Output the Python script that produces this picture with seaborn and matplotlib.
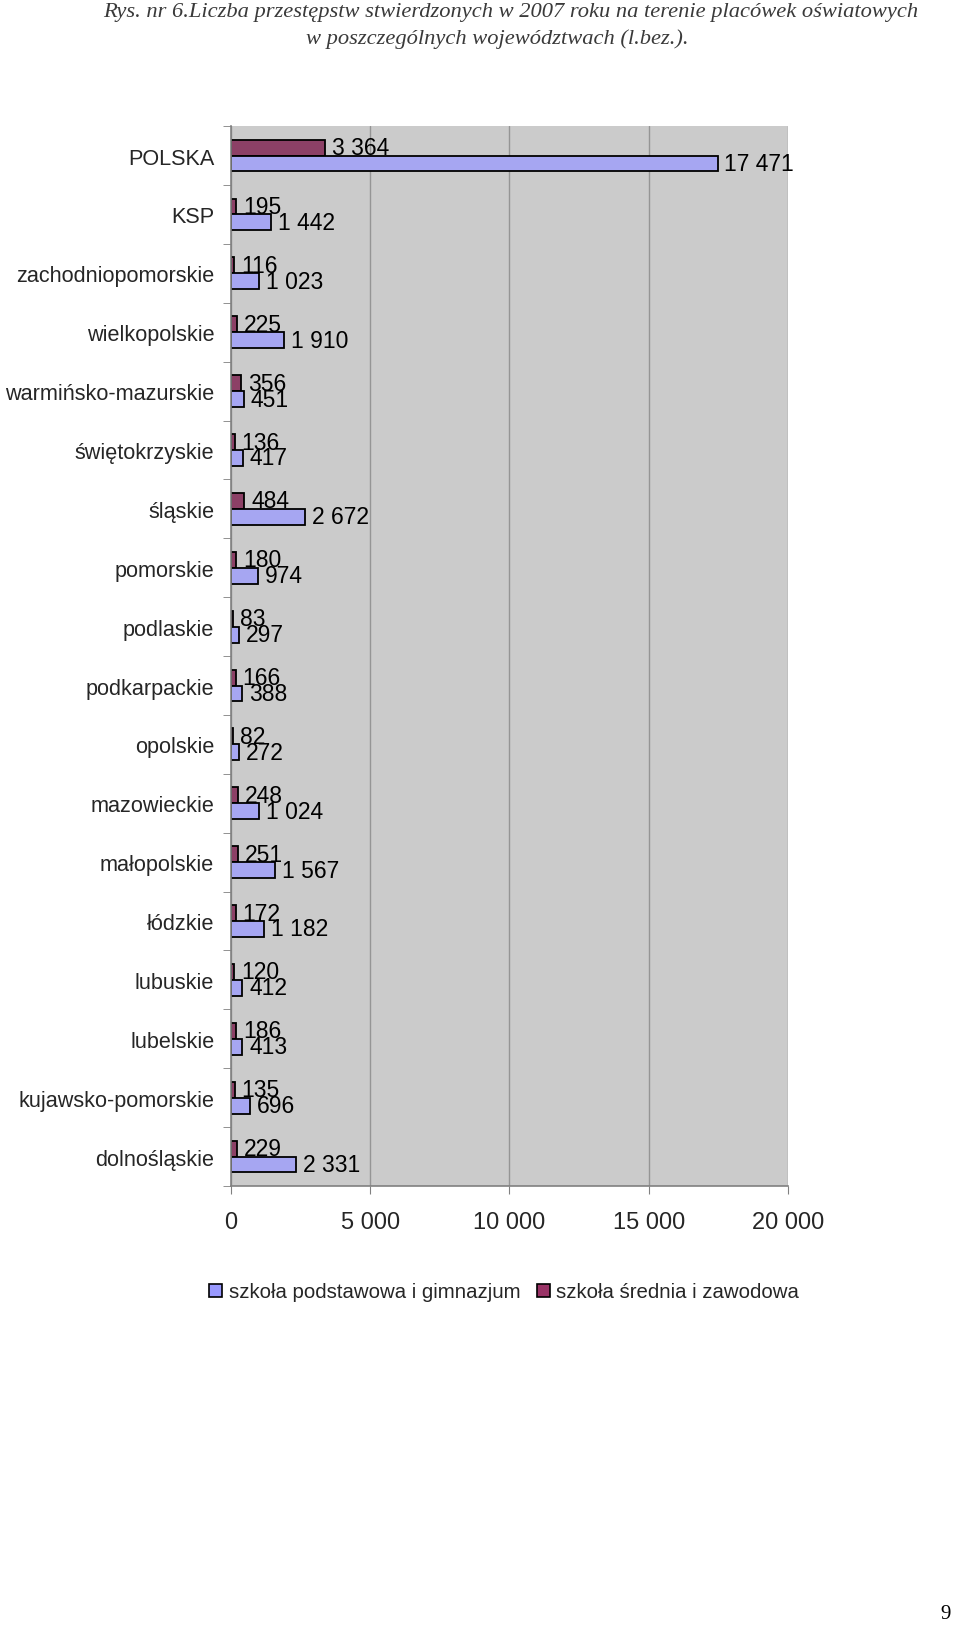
import numpy as np
import pandas as pd
import matplotlib
matplotlib.use("Agg")
import matplotlib.pyplot as plt
from matplotlib.patches import Patch
import seaborn as sns

regions = ["POLSKA", "KSP", "zachodniopomorskie", "wielkopolskie",
           "warmińsko-mazurskie", "świętokrzyskie", "śląskie", "pomorskie",
           "podlaskie", "podkarpackie", "opolskie", "mazowieckie",
           "małopolskie", "łódzkie", "lubuskie", "lubelskie",
           "kujawsko-pomorskie", "dolnośląskie"]
srednia = [3364, 195, 116, 225, 356, 136, 484, 180, 83, 166, 82, 248, 251, 172, 120, 186, 135, 229]
podstawowa = [17471, 1442, 1023, 1910, 451, 417, 2672, 974, 297, 388, 272, 1024, 1567, 1182, 412, 413, 696, 2331]
series_names = ["szkoła podstawowa i gimnazjum", "szkoła średnia i zawodowa"]
x_ticks = [0, 5000, 10000, 15000, 20000]
title_1 = "Rys. nr 6.Liczba przestępstw stwierdzonych w 2007 roku na terenie placówek oświatowych"
title_2 = "w poszczególnych województwach (l.bez.)."

BLUE = "#9999FF"
RED = "#993366"

def fmt(v):
    return f"{v:,}".replace(",", " ")

df = pd.DataFrame({
    "region": regions * 2,
    "value": podstawowa + srednia,
    "series": [series_names[0]] * len(regions) + [series_names[1]] * len(regions),
})

sns.set_style("white")
plt.rcParams["font.family"] = ["Liberation Sans", "DejaVu Sans"]

fig = plt.figure(figsize=(9.6, 16.4), dpi=100)
ax = fig.add_axes([0.2406, 0.2762, 0.5802, 0.6463])
ax.set_facecolor("#CBCBCB")

sns.barplot(data=df, y="region", x="value", hue="series",
            hue_order=[series_names[1], series_names[0]],
            order=regions,
            palette={series_names[0]: BLUE, series_names[1]: RED},
            orient="h", width=0.54, gap=0, edgecolor="black", linewidth=1.3,
            errorbar=None, legend=False, ax=ax)

for cont, vals in zip(ax.containers, [srednia, podstawowa]):
    ax.bar_label(cont, labels=[fmt(v) for v in vals], padding=5,
                 fontsize=16.5, color="black")

n = len(regions)
ax.set_xlim(0, 20000)
ax.set_ylim(n - 0.5, -0.5)
ax.set_xticks(x_ticks)
ax.set_xticklabels([fmt(t) for t in x_ticks])
ax.set_yticks(np.arange(n))
ax.set_yticklabels(regions)
ax.set_yticks(np.arange(-0.5, n), minor=True)
ax.tick_params(axis="y", which="major", length=0, pad=12, labelsize=15.6)
ax.tick_params(axis="y", which="minor", length=6, color="#808080", direction="out", left=True)
ax.tick_params(axis="x", which="major", length=6, color="#808080", direction="out",
               bottom=True, pad=12, labelsize=17)
ax.set_xlabel("")
ax.set_ylabel("")
ax.grid(axis="x", color="#959595", lw=1)
ax.grid(axis="y", visible=False)
ax.set_axisbelow(True)
for s in ["top", "right"]:
    ax.spines[s].set_visible(False)
for s in ["left", "bottom"]:
    ax.spines[s].set_color("#808080")
    ax.spines[s].set_linewidth(1.2)

handles = [Patch(facecolor=BLUE, edgecolor="black", lw=1.2),
           Patch(facecolor=RED, edgecolor="black", lw=1.2)]
fig.legend(handles, series_names, loc="center", bbox_to_anchor=(504 / 960, 1 - 1293 / 1640),
           ncol=2, frameon=False, fontsize=14.7, handlelength=0.65, handleheight=0.65,
           handletextpad=0.3, columnspacing=0.8)

fig.text(511 / 960, 1 - 13 / 1640, title_1, ha="center", va="center",
         family="Liberation Serif", style="italic", fontsize=16.2, color="#3a3a3a")
fig.text(497 / 960, 1 - 39 / 1640, title_2, ha="center", va="center",
         family="Liberation Serif", style="italic", fontsize=16.2, color="#3a3a3a")
fig.text(946 / 960, 1 - 1615 / 1640, "9", ha="center", va="center",
         family="Liberation Serif", fontsize=15, color="black")

fig.savefig("out.png", dpi=100)
